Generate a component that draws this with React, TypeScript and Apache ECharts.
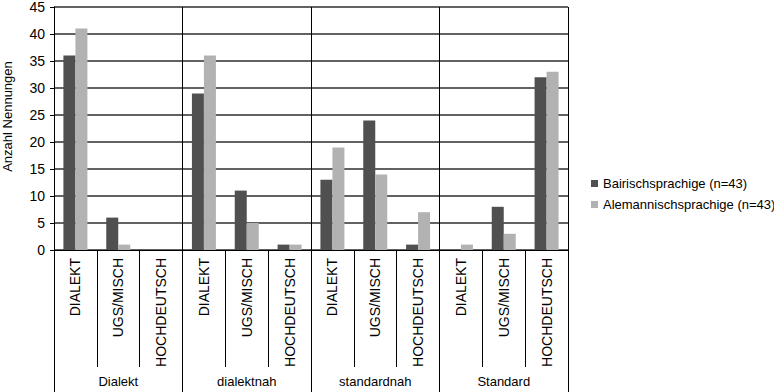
import React, { useEffect, useRef } from "react";
import * as echarts from "echarts";

const subCategories = [
  "DIALEKT", "UGS/MISCH", "HOCHDEUTSCH",
  "DIALEKT", "UGS/MISCH", "HOCHDEUTSCH",
  "DIALEKT", "UGS/MISCH", "HOCHDEUTSCH",
  "DIALEKT", "UGS/MISCH", "HOCHDEUTSCH",
];
const groups = ["Dialekt", "dialektnah", "standardnah", "Standard"];
const bairisch = [36, 6, 0, 29, 11, 1, 13, 24, 1, 0, 8, 32];
const alemannisch = [41, 1, 0, 36, 5, 1, 19, 14, 7, 1, 3, 33];
const seriesNames = ["Bairischsprachige (n=43)", "Alemannischsprachige (n=43)"];

const FONT = "Liberation Sans, Arial, sans-serif";

export default function App() {
  const ref = useRef<HTMLDivElement>(null);
  useEffect(() => {
    if (!ref.current) return;
    const chart = echarts.init(ref.current, undefined, { renderer: "svg" });
    chart.setOption({
      animation: false,
      backgroundColor: "#ffffff",
      textStyle: { fontFamily: FONT },
      grid: {
        left: 54,
        right: 206,
        top: 7,
        bottom: 142,
        containLabel: false,
        outerBoundsMode: "none",
      },
      legend: {
        orient: "vertical",
        left: 586,
        top: 172,
        itemWidth: 7,
        itemHeight: 7,
        itemGap: 8,
        icon: "rect",
        textStyle: { fontSize: 13, color: "#000", fontFamily: FONT },
        data: seriesNames,
      },
      xAxis: [
        {
          type: "category",
          data: subCategories,
          position: "bottom",
          axisLine: { show: true, lineStyle: { color: "#000", width: 1 } },
          axisTick: { show: true, length: 117, lineStyle: { color: "#000", width: 1 } },
          axisLabel: {
            rotate: 90,
            interval: 0,
            margin: 8,
            fontSize: 14,
            color: "#000",
            fontFamily: FONT,
          },
          splitLine: { show: false },
        },
        {
          type: "category",
          data: groups,
          position: "bottom",
          axisLine: { show: false },
          axisTick: { show: true, length: 142, lineStyle: { color: "#000", width: 1 } },
          axisLabel: { interval: 0, margin: 125, fontSize: 13, color: "#000", fontFamily: FONT },
          splitLine: { show: true, lineStyle: { color: "#000", width: 1 } },
        },
      ],
      yAxis: {
        type: "value",
        min: 0,
        max: 45,
        interval: 5,
        name: "Anzahl Nennungen",
        nameLocation: "middle",
        nameGap: 40,
        nameTextStyle: { fontSize: 13, color: "#000", fontFamily: FONT, padding: [0, 0, 0, 24] },
        axisLine: { show: true, lineStyle: { color: "#000", width: 1 } },
        axisTick: { show: true, length: 4, lineStyle: { color: "#000" } },
        axisLabel: { fontSize: 14, color: "#000", margin: 9, fontFamily: FONT },
        splitLine: { show: true, lineStyle: { color: "#2e2e2e", width: 1.6 } },
      },
      series: [
        {
          name: seriesNames[0],
          type: "bar",
          xAxisIndex: 0,
          data: bairisch,
          barWidth: 12,
          barGap: "0%",
          itemStyle: { color: "#505050" },
        },
        {
          name: seriesNames[1],
          type: "bar",
          xAxisIndex: 0,
          data: alemannisch,
          barWidth: 12,
          barGap: "0%",
          itemStyle: { color: "#b2b2b2" },
        },
      ],
    });
    return () => chart.dispose();
  }, []);
  return <div ref={ref} style={{ width: 774, height: 392, position: "absolute", left: 0, top: 0 }} />;
}
